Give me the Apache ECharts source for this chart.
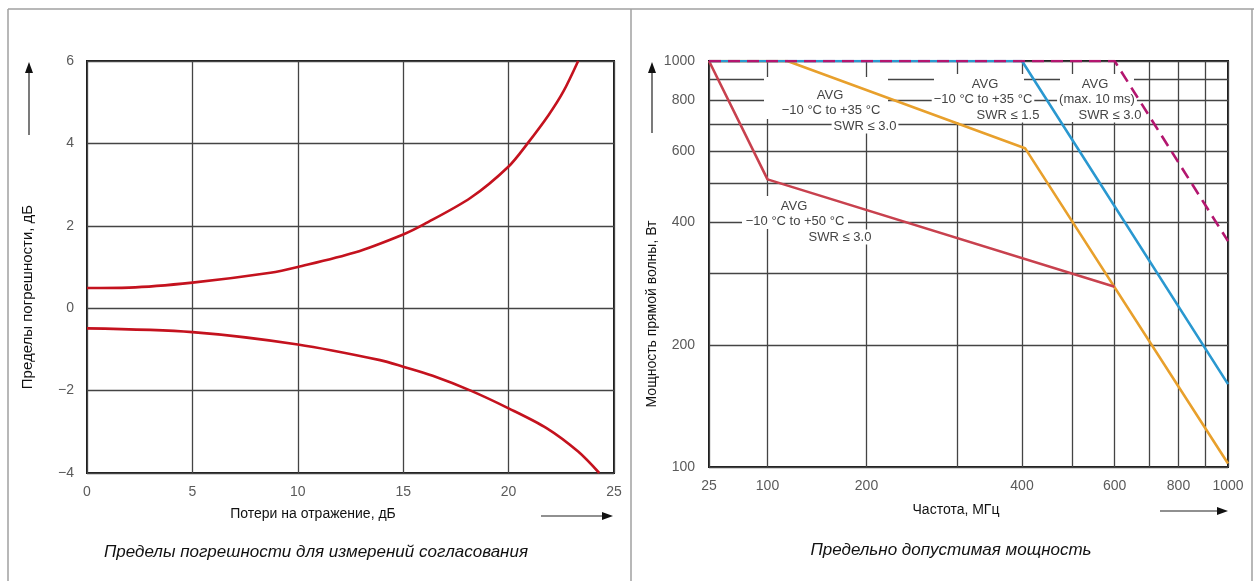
<!DOCTYPE html>
<html>
<head>
<meta charset="utf-8">
<script src="https://cdn.jsdelivr.net/npm/echarts@6/dist/echarts.min.js"></script>
<style>
html,body{margin:0;padding:0;background:#fff;}
#c{width:1254px;height:581px;}
</style>
</head>
<body>
<div id="c"></div>
<script>
// ---------- Left chart: error limits vs return loss ----------
const RL_TICKS = [0, 5, 10, 15, 20, 25];
const ERR_TICKS = [-4, -2, 0, 2, 4, 6];
const UPPER_RL = [0, 2, 5, 8.7, 10, 12.7, 15, 16, 18.2, 20, 20.9, 21.9, 22.6, 23.3];
const UPPER_ERR = [0.49, 0.5, 0.62, 0.86, 1.0, 1.35, 1.79, 2.04, 2.68, 3.44, 4.0, 4.69, 5.26, 6.0];
const LOWER_RL = [0, 5, 10, 13.9, 15, 16.4, 18.2, 20, 21.8, 23.3, 24.3];
const LOWER_ERR = [-0.49, -0.58, -0.88, -1.26, -1.42, -1.64, -2.0, -2.43, -2.91, -3.48, -4.0];

// ---------- Right chart: max power vs frequency ----------
const FREQ_GRID = [25, 100, 200, 300, 400, 500, 600, 700, 800, 900, 1000];
const FREQ_LABELS = [25, 100, 200, 400, 600, 800, 1000];
const POWER_GRID = [100, 200, 300, 400, 500, 600, 700, 800, 900, 1000];
const POWER_LABELS = [100, 200, 400, 600, 800, 1000];

const RED_FREQ = [25, 100, 600];
const RED_POWER = [1000, 511, 278];
const ORANGE_FREQ = [25, 120, 406, 1000];
const ORANGE_POWER = [1000, 1000, 610, 102];
const BLUE_FREQ = [25, 400, 1000];
const BLUE_POWER = [1000, 1000, 160];
const PURPLE_FREQ = [25, 600, 1000];
const PURPLE_POWER = [1000, 1000, 360];

// The printed frequency axis is non-uniform: scale stops (axis units) for each grid frequency
const FREQ_SCALE_UNITS = [0, 58.5, 157.5, 248.3, 313, 363.5, 405.6, 440, 469.5, 496.4, 519];
function freqToAxis(f) {
  for (let i = 0; i < FREQ_GRID.length - 1; i++) {
    if (f <= FREQ_GRID[i + 1]) {
      const t = (f - FREQ_GRID[i]) / (FREQ_GRID[i + 1] - FREQ_GRID[i]);
      return FREQ_SCALE_UNITS[i] + t * (FREQ_SCALE_UNITS[i + 1] - FREQ_SCALE_UNITS[i]);
    }
  }
  return FREQ_SCALE_UNITS[FREQ_SCALE_UNITS.length - 1];
}
function axisToFreqLabel(v) {
  let best = FREQ_GRID[0], d = Infinity;
  FREQ_GRID.forEach(f => { const dd = Math.abs(freqToAxis(f) - v); if (dd < d) { d = dd; best = f; } });
  return String(best);
}
function pairs(xs, ys, fx) { return xs.map((x, i) => [fx ? fx(x) : x, ys[i]]); }

const FONT = 'Liberation Sans, Arial, sans-serif';
const GRID_COLOR = '#444';
const FRAME_COLOR = '#1a1a1a';
const TICK_COLOR = '#5a5a5a';

const chart = echarts.init(document.getElementById('c'), null, {renderer: 'canvas'});

function txt(x, y, s, opt, rot) {
  return {
    type: 'text', x: x, y: y, z: 5, rotation: rot || 0,
    style: Object.assign({text: s, fill: '#111', font: '14px ' + FONT, align: 'center', verticalAlign: 'middle'}, opt || {})
  };
}
function annot(x, y, s) {
  return {
    type: 'text', x: x, y: y, z: 1,
    style: {text: s, fill: '#444', font: '13px ' + FONT, align: 'center', verticalAlign: 'middle',
      backgroundColor: '#fff', padding: [1, 2]}
  };
}
function whiteRect(x, y, w, h) {
  return {type: 'rect', z: 1, shape: {x: x, y: y, width: w, height: h}, style: {fill: '#fff'}};
}
function line(x1, y1, x2, y2, color, w) {
  return {type: 'line', z: 0, shape: {x1: x1, y1: y1, x2: x2, y2: y2}, style: {stroke: color, lineWidth: w}};
}
function arrowUp(x, yTip, yEnd) {
  return [
    {type: 'line', z: 5, shape: {x1: x, y1: yEnd, x2: x, y2: yTip + 8}, style: {stroke: '#222', lineWidth: 1.2}},
    {type: 'polygon', z: 5, shape: {points: [[x, yTip], [x - 4, yTip + 11], [x + 4, yTip + 11]]}, style: {fill: '#111'}}
  ];
}
function arrowRight(xStart, xTip, y) {
  return [
    {type: 'line', z: 5, shape: {x1: xStart, y1: y, x2: xTip - 8, y2: y}, style: {stroke: '#222', lineWidth: 1.2}},
    {type: 'polygon', z: 5, shape: {points: [[xTip, y], [xTip - 11, y - 4], [xTip - 11, y + 4]]}, style: {fill: '#111'}}
  ];
}

const graphics = [
  // panel frame
  line(8, 9, 1254, 9, '#a0a0a0', 1.5),
  line(8, 9, 8, 581, '#a0a0a0', 1.5),
  line(631, 9, 631, 581, '#a0a0a0', 1.5),
  line(1252, 9, 1252, 581, '#a0a0a0', 1.5),
  // titles
  txt(28, 297, 'Пределы погрешности, дБ', {font: '15px ' + FONT}, Math.PI / 2),
  txt(313, 514, 'Потери на отражение, дБ', {}),
  txt(316, 552, 'Пределы погрешности для измерений согласования', {font: 'italic 17px ' + FONT}),
  txt(652, 314, 'Мощность прямой волны, Вт', {}, Math.PI / 2),
  txt(956, 510, 'Частота, МГц', {}),
  txt(951, 550, 'Предельно допустимая мощность', {font: 'italic 17px ' + FONT}),
  // label boxes hiding grid lines
  whiteRect(764, 77, 124, 42),
  whiteRect(742, 196, 106, 33),
  whiteRect(934, 74, 90, 48),
  whiteRect(1060, 74, 74, 48),
  annot(830, 95, 'AVG'),
  annot(831, 110, '−10 °C to +35 °C'),
  annot(865, 126, 'SWR ≤ 3.0'),
  annot(794, 206, 'AVG'),
  annot(795, 221, '−10 °C to +50 °C'),
  annot(840, 237, 'SWR ≤ 3.0'),
  annot(985, 84, 'AVG'),
  annot(983, 99, '−10 °C to +35 °C'),
  annot(1008, 115, 'SWR ≤ 1.5'),
  annot(1095, 84, 'AVG'),
  annot(1097, 99, '(max. 10 ms)'),
  annot(1110, 115, 'SWR ≤ 3.0')
].concat(arrowUp(29, 62, 135), arrowUp(652, 62, 133), arrowRight(541, 613, 516), arrowRight(1160, 1228, 511));

const axisLabelBase = {color: TICK_COLOR, fontSize: 14, fontFamily: FONT};

chart.setOption({
  animation: false,
  backgroundColor: '#fff',
  grid: [
    {left: 87, top: 61, width: 527, height: 412, show: true, borderColor: FRAME_COLOR, borderWidth: 2, backgroundColor: 'transparent'},
    {left: 709, top: 61, width: 519, height: 406, show: true, borderColor: FRAME_COLOR, borderWidth: 2, backgroundColor: 'transparent'}
  ],
  xAxis: [
    {
      gridIndex: 0, type: 'value', min: RL_TICKS[0], max: RL_TICKS[RL_TICKS.length - 1], interval: 5,
      axisLine: {show: false}, axisTick: {show: false},
      axisLabel: Object.assign({margin: 12}, axisLabelBase),
      splitLine: {show: true, lineStyle: {color: GRID_COLOR, width: 1.3}}
    },
    {
      gridIndex: 1, type: 'value', min: 0, max: FREQ_SCALE_UNITS[FREQ_SCALE_UNITS.length - 1],
      axisLine: {show: false},
      axisTick: {show: false, customValues: FREQ_GRID.map(freqToAxis)},
      axisLabel: Object.assign({margin: 12, customValues: FREQ_LABELS.map(freqToAxis), formatter: v => axisToFreqLabel(v)}, axisLabelBase),
      splitLine: {show: true, lineStyle: {color: GRID_COLOR, width: 1.3}}
    }
  ],
  yAxis: [
    {
      gridIndex: 0, type: 'value', min: ERR_TICKS[0], max: ERR_TICKS[ERR_TICKS.length - 1], interval: 2,
      axisLine: {show: false}, axisTick: {show: false},
      axisLabel: Object.assign({margin: 13, formatter: v => v < 0 ? '−' + Math.abs(v) : String(v)}, axisLabelBase),
      splitLine: {show: true, lineStyle: {color: GRID_COLOR, width: 1.3}}
    },
    {
      gridIndex: 1, type: 'log', logBase: 10, min: POWER_GRID[0], max: POWER_GRID[POWER_GRID.length - 1],
      axisLine: {show: false},
      axisTick: {show: false, customValues: POWER_GRID},
      axisLabel: Object.assign({margin: 14, customValues: POWER_LABELS, formatter: v => String(Math.round(v))}, axisLabelBase),
      splitLine: {show: true, lineStyle: {color: GRID_COLOR, width: 1.3}}
    }
  ],
  series: [
    {type: 'line', xAxisIndex: 0, yAxisIndex: 0, data: pairs(UPPER_RL, UPPER_ERR), smooth: 0.3, showSymbol: false,
      lineStyle: {color: '#c4121e', width: 2.6}, z: 3},
    {type: 'line', xAxisIndex: 0, yAxisIndex: 0, data: pairs(LOWER_RL, LOWER_ERR), smooth: 0.3, showSymbol: false,
      lineStyle: {color: '#c4121e', width: 2.6}, z: 3},
    {type: 'line', xAxisIndex: 1, yAxisIndex: 1, data: pairs(ORANGE_FREQ, ORANGE_POWER, freqToAxis), showSymbol: false,
      lineStyle: {color: '#e8a02c', width: 2.6}, z: 3},
    {type: 'line', xAxisIndex: 1, yAxisIndex: 1, data: pairs(RED_FREQ, RED_POWER, freqToAxis), showSymbol: false,
      lineStyle: {color: '#c8414e', width: 2.6}, z: 4},
    {type: 'line', xAxisIndex: 1, yAxisIndex: 1, data: pairs(BLUE_FREQ, BLUE_POWER, freqToAxis), showSymbol: false,
      lineStyle: {color: '#2a98d0', width: 2.6}, z: 5},
    {type: 'line', xAxisIndex: 1, yAxisIndex: 1, data: pairs(PURPLE_FREQ, PURPLE_POWER, freqToAxis), showSymbol: false,
      lineStyle: {color: '#b3166f', width: 2.6, type: [12, 7]}, z: 6}
  ],
  graphic: graphics
});
</script>
</body>
</html>
